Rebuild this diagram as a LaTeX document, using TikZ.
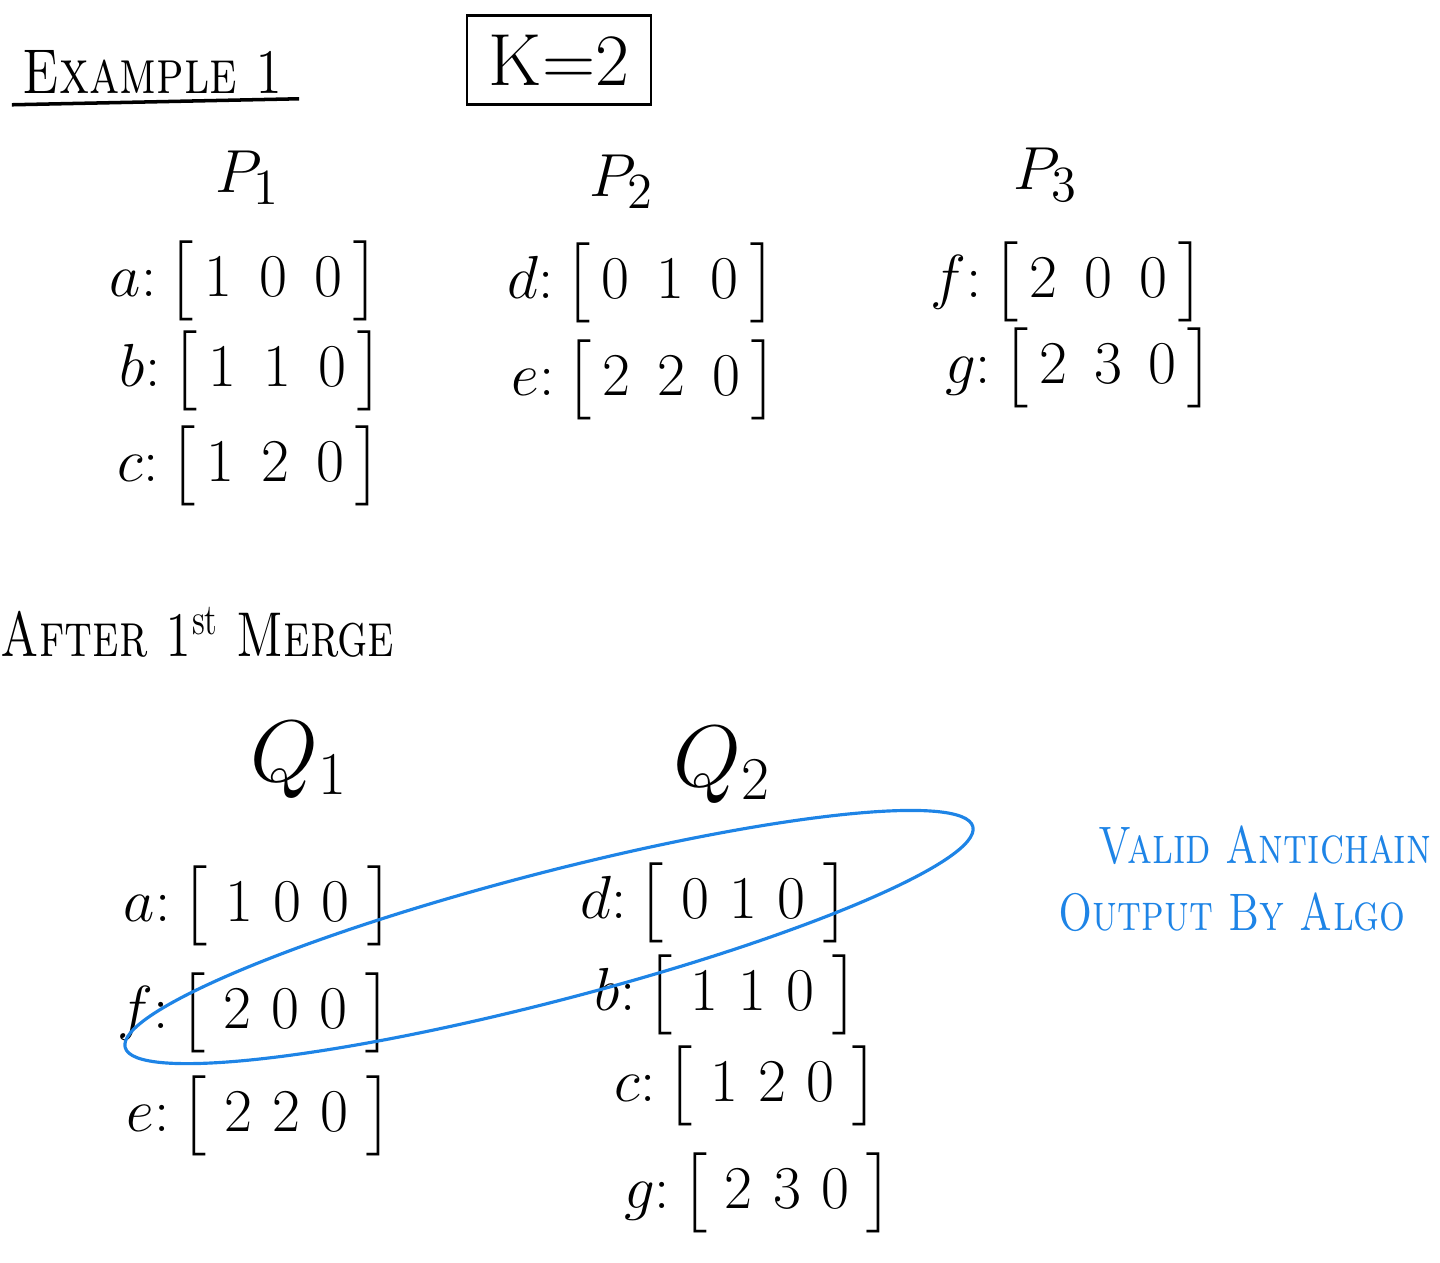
\documentclass[tikz,border=0pt]{standalone}
\usepackage{amsmath,amssymb}
\usepackage{tikz}
\definecolor{penblue}{RGB}{30,132,230}
\newcommand{\prow}[4]{$#1{:}\,\bigl[\,#2\;\,#3\;\,#4\,\bigr]$}
\newcommand{\qrow}[4]{$#1{:}\,\bigl[\;#2\,\,#3\,\,#4\;\bigr]$}

\begin{document}
\begin{tikzpicture}[x=0.01cm, y=-0.01cm, line width=0.7pt,
	every node/.style={inner sep=0pt, font=\fontsize{19}{23}\selectfont},
	heading/.style={font=\fontsize{18}{22}\selectfont, xscale=0.78, transform shape},
	setlabel/.style={font=\fontsize{19}{23}\selectfont},
	note/.style={text=penblue, font=\fontsize{15}{18}\selectfont, xscale=0.77, transform shape}]
	\useasboundingbox (0,0) rectangle (1440,1262);
	% headings
	\node[heading] (title) at (153,72) {\textsc{Example 1}};
	\draw[line width=1pt] ([xshift=-0.1cm,yshift=-0.1cm]title.south west) -- ([xshift=0.15cm,yshift=-0.04cm]title.south east);
	\node[draw, line width=0.6pt, minimum width=1.84cm, minimum height=0.89cm, font=\fontsize{21}{25}\selectfont] (k) at (559,60) {K=2};
	\node[heading, xscale=0.96, anchor=west] (merge) at (0,632) {\textsc{After 1\textsuperscript{\upshape st} Merge}};
	% the three chains
	\node[setlabel] (p1) at (248,178) {$P_1$};
	\node[setlabel] (p2) at (622,182) {$P_2$};
	\node[setlabel] (p3) at (1046,175) {$P_3$};
	\node (p1a) at (245,281) {\prow{a}{1}{0}{0}};
	\node (p1b) at (252,371) {\prow{b}{1}{1}{0}};
	\node (p1c) at (250,466) {\prow{c}{1}{2}{0}};
	\node (p2d) at (642,283) {\prow{d}{0}{1}{0}};
	\node (p2e) at (645,380) {\prow{e}{2}{2}{0}};
	\node (p3f) at (1068,282) {\prow{f}{2}{0}{0}};
	\node (p3g) at (1080,368) {\prow{g}{2}{3}{0}};
	% after merging
	\node[font=\fontsize{25}{30}\selectfont] (q1) at (299,760) {$Q_1$};
	\node[font=\fontsize{25}{30}\selectfont] (q2) at (722,765) {$Q_2$};
	\node (q1a) at (259,906) {\qrow{a}{1}{0}{0}};
	\node (q1f) at (255,1013) {\qrow{f}{2}{0}{0}};
	\node (q1e) at (260,1116) {\qrow{e}{2}{2}{0}};
	\node (q2d) at (715,903) {\qrow{d}{0}{1}{0}};
	\node (q2b) at (727,995) {\qrow{b}{1}{1}{0}};
	\node (q2c) at (747,1086) {\qrow{c}{1}{2}{0}};
	\node (q2g) at (759,1193) {\qrow{g}{2}{3}{0}};
	% antichain
	\draw[penblue, line width=0.9pt, rotate around={14.6:(549,937)}] (549,937) ellipse (438 and 64);
	\node[note] (valid) at (1265,845) {\textsc{Valid Antichain}};
	\node[note] (algo) at (1232,912) {\textsc{Output By Algo}};
\end{tikzpicture}
\end{document}
